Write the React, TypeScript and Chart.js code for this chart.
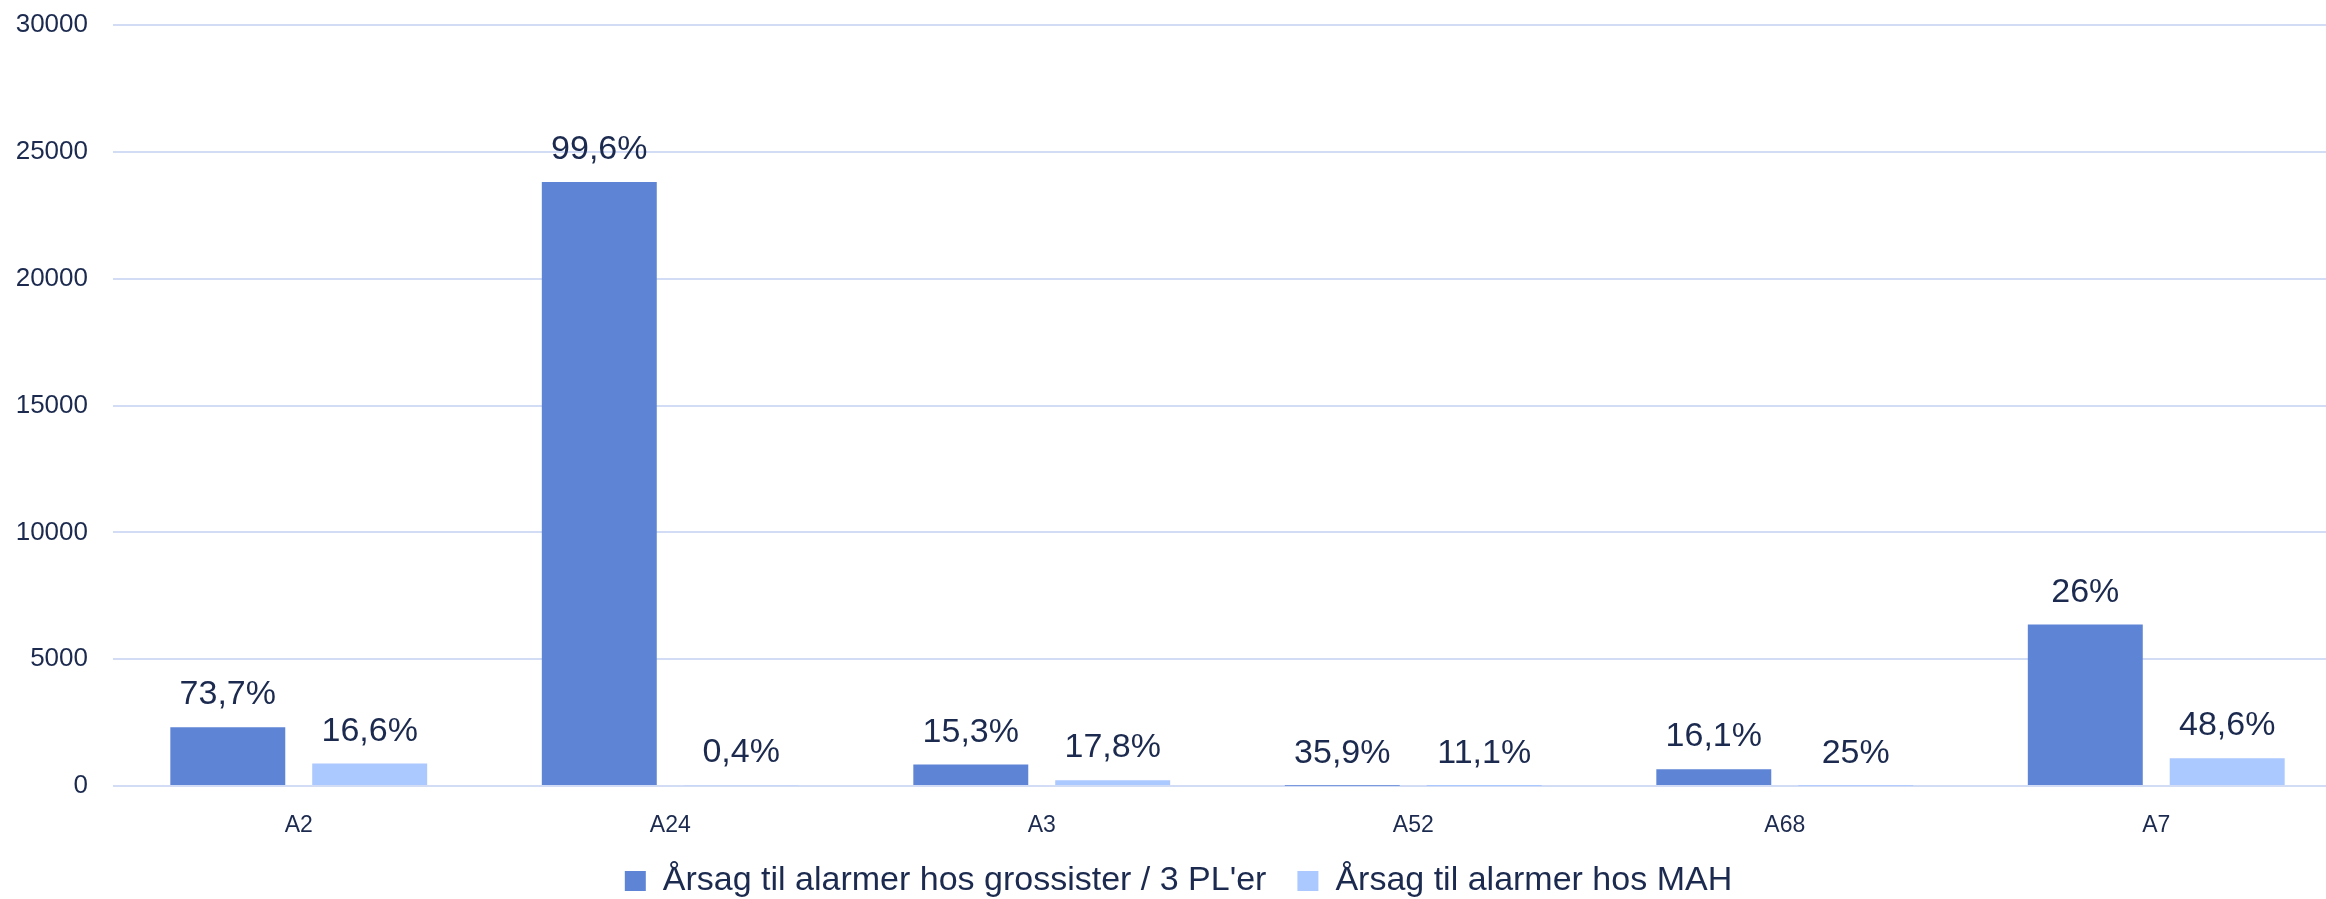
import React, { useEffect, useRef } from "react";
import { Chart, registerables } from "chart.js";

Chart.register(...registerables);

const categories = ["A2", "A24", "A3", "A52", "A68", "A7"];
const wholesalerValues = [2315, 23810, 845, 12, 660, 6365];
const mahValues = [884, 25, 225, 4, 8, 1093];
const wholesalerLabels = ["73,7%", "99,6%", "15,3%", "35,9%", "16,1%", "26%"];
const mahLabels = ["16,6%", "0,4%", "17,8%", "11,1%", "25%", "48,6%"];
const seriesNames = ["Årsag til alarmer hos grossister / 3 PL'er", "Årsag til alarmer hos MAH"];
const yTicks = [0, 5000, 10000, 15000, 20000, 25000, 30000];

const FONT = "'Liberation Sans', Arial, sans-serif";
const TEXT = "#1b2a4e";
const GRID = "#d2dcf5";
const DARK = "#5e84d6";
const LIGHT = "#abc8ff";

const barLabelPlugin = {
  id: "barLabels",
  afterDatasetsDraw(chart: any) {
    const ctx = chart.ctx;
    const sets = [wholesalerLabels, mahLabels];
    ctx.save();
    ctx.font = `34px ${FONT}`;
    ctx.fillStyle = TEXT;
    ctx.textAlign = "center";
    ctx.textBaseline = "alphabetic";
    chart.data.datasets.forEach((_ds: any, di: number) => {
      const meta = chart.getDatasetMeta(di);
      meta.data.forEach((el: any, i: number) => {
        ctx.fillText(sets[di][i], el.x, el.y - 23);
      });
    });
    ctx.restore();
  },
};

export default function App() {
  const ref = useRef<HTMLCanvasElement>(null);
  useEffect(() => {
    document.body.style.margin = "0";
    document.documentElement.style.overflow = "hidden";
    document.body.style.overflow = "hidden";
    if (!ref.current) return;
    const chart = new Chart(ref.current, {
      type: "bar",
      data: {
        labels: categories,
        datasets: [
          {
            label: seriesNames[0],
            data: wholesalerValues,
            backgroundColor: DARK,
            categoryPercentage: 0.764,
            barPercentage: 0.81,
          },
          {
            label: seriesNames[1],
            data: mahValues,
            backgroundColor: LIGHT,
            categoryPercentage: 0.764,
            barPercentage: 0.81,
          },
        ],
      },
      options: {
        animation: false,
        responsive: true,
        maintainAspectRatio: false,
        layout: { padding: { top: 0, left: 15, right: 2, bottom: 0 } },
        scales: {
          x: {
            grid: { display: false },
            border: { display: false },
            afterFit: (axis: any) => {
              axis.height = 47;
            },
            ticks: {
              color: TEXT,
              font: { family: FONT, size: 23, lineHeight: 1.2 },
              padding: 18,
            },
          },
          y: {
            min: 0,
            max: 30000,
            afterBuildTicks: (axis: any) => {
              axis.ticks = yTicks.map((v) => ({ value: v }));
            },
            afterFit: (axis: any) => {
              axis.width = 98;
              axis.paddingTop = 25;
              axis.paddingBottom = 0;
            },
            grid: { color: GRID, lineWidth: 2, drawTicks: false },
            border: { display: false },
            ticks: {
              color: TEXT,
              font: { family: FONT, size: 26 },
              padding: 25,
              callback: (v: any) => String(v),
            },
          },
        },
        plugins: {
          legend: {
            position: "bottom",
            labels: {
              color: TEXT,
              font: { family: FONT, size: 34 },
              boxWidth: 21,
              boxHeight: 20,
              padding: 31,
            },
          },
          tooltip: { enabled: false },
        },
      },
      plugins: [barLabelPlugin],
    });
    return () => chart.destroy();
  }, []);
  return (
    <div style={{ width: 2344, height: 908, position: "relative" }}>
      <canvas ref={ref} />
    </div>
  );
}
